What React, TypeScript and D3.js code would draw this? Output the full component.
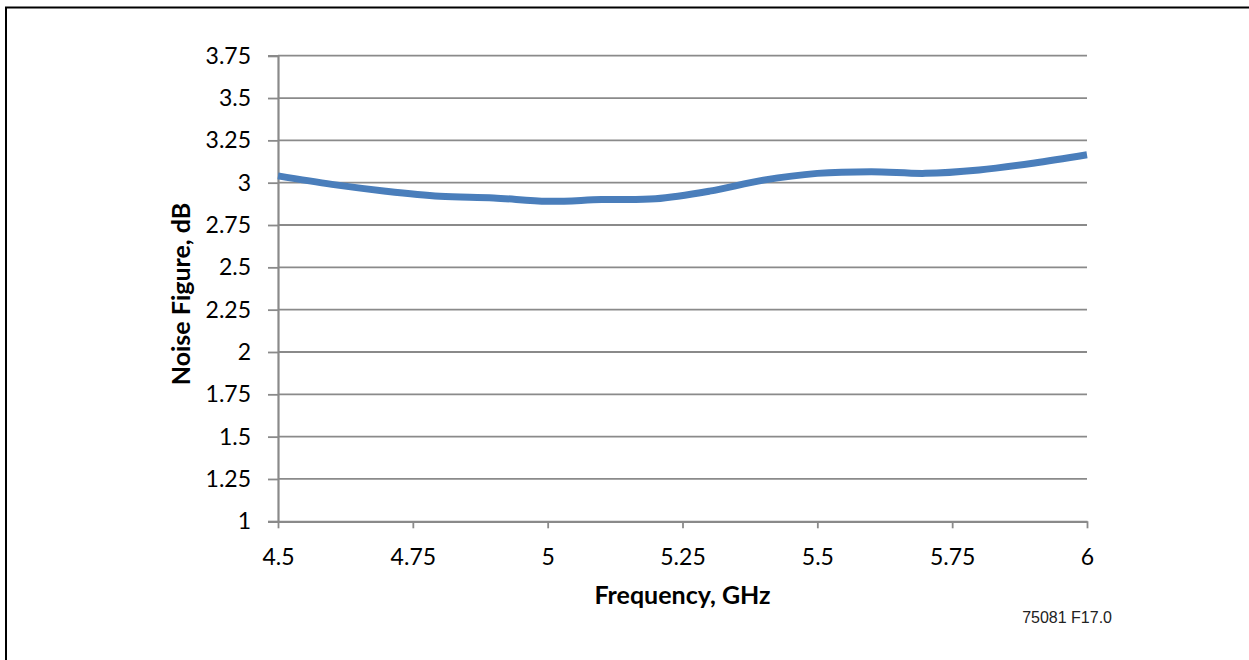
import { useEffect, useRef } from "react";
import * as d3 from "d3";

const frequencyGHz = [4.5, 4.6, 4.7, 4.8, 4.9, 5.0, 5.1, 5.2, 5.3, 5.4, 5.5, 5.6, 5.7, 5.8, 5.9, 6.0];
const noiseFigureDb = [3.04, 2.99, 2.95, 2.92, 2.91, 2.89, 2.9, 2.905, 2.95, 3.015, 3.055, 3.065, 3.055, 3.075, 3.115, 3.165];
const xTicks = [4.5, 4.75, 5, 5.25, 5.5, 5.75, 6];
const yTicks = [1, 1.25, 1.5, 1.75, 2, 2.25, 2.5, 2.75, 3, 3.25, 3.5, 3.75];

const App = () => {
  const chartContainer = useRef<SVGSVGElement>(null);

  useEffect(() => {
    const W = 1249;
    const H = 660;
    const margin = { top: 55.7, right: 162, bottom: 138.7, left: 278 };
    const width = W - margin.left - margin.right;
    const height = H - margin.top - margin.bottom;
    const grey = "#8a8a8a";
    const font = "Lato, 'Open Sans', sans-serif";

    const svg = d3.select(chartContainer.current);
    svg.selectAll("*").remove();

    // outer frame
    svg
      .append("rect")
      .attr("x", 6)
      .attr("y", 7.5)
      .attr("width", W + 10)
      .attr("height", H + 10)
      .attr("fill", "none")
      .attr("stroke", "#000")
      .attr("stroke-width", 2);

    const x = d3.scaleLinear().domain([4.5, 6]).range([0, width]);
    const y = d3.scaleLinear().domain([1, 3.75]).range([height, 0]);

    const g = svg.append("g").attr("transform", `translate(${margin.left},${margin.top})`);

    // gridlines
    g.append("g")
      .selectAll("line")
      .data(yTicks.slice(1))
      .enter()
      .append("line")
      .attr("x1", 0)
      .attr("x2", width)
      .attr("y1", (d) => y(d))
      .attr("y2", (d) => y(d))
      .attr("stroke", grey)
      .attr("stroke-width", 1.8);

    // y axis
    const yAxis = g
      .append("g")
      .call(
        d3
          .axisLeft(y)
          .tickValues(yTicks)
          .tickSize(10)
          .tickPadding(17)
          .tickFormat((d) => String(d))
      );
    yAxis.select(".domain").attr("stroke", grey).attr("stroke-width", 2.2);
    yAxis.selectAll(".tick line").attr("stroke", grey).attr("stroke-width", 1.8);
    yAxis
      .selectAll("text")
      .attr("fill", "#000")
      .style("font-family", font)
      .style("font-size", "23px");

    // x axis
    const xAxis = g
      .append("g")
      .attr("transform", `translate(0,${height})`)
      .call(
        d3
          .axisBottom(x)
          .tickValues(xTicks)
          .tickSize(7)
          .tickSizeOuter(0)
          .tickFormat((d) => String(d))
      );
    xAxis.select(".domain").attr("stroke", grey).attr("stroke-width", 2.2);
    xAxis.selectAll(".tick line").attr("stroke", grey).attr("stroke-width", 1.8);
    xAxis
      .selectAll("text")
      .attr("y", 44)
      .attr("dy", 0)
      .attr("fill", "#000")
      .style("font-family", font)
      .style("font-size", "23px");

    // data line
    const line = d3
      .line<number>()
      .x((_, i) => x(frequencyGHz[i]))
      .y((d) => y(d))
      .curve(d3.curveCatmullRom.alpha(0.5));

    g.append("path")
      .datum(noiseFigureDb)
      .attr("d", line)
      .attr("fill", "none")
      .attr("stroke", "#4a7ebb")
      .attr("stroke-width", 7)
      .attr("stroke-linejoin", "round");

    // axis titles
    svg
      .append("text")
      .attr("x", margin.left + width / 2)
      .attr("y", 604)
      .attr("text-anchor", "middle")
      .style("font-family", font)
      .style("font-weight", "bold")
      .style("font-size", "25px")
      .text("Frequency, GHz");

    svg
      .append("text")
      .attr("transform", `translate(190,294) rotate(-90)`)
      .attr("text-anchor", "middle")
      .style("font-family", font)
      .style("font-weight", "bold")
      .style("font-size", "25px")
      .text("Noise Figure, dB");

    // figure code
    svg
      .append("text")
      .attr("x", 1112)
      .attr("y", 623)
      .attr("text-anchor", "end")
      .attr("fill", "#222")
      .style("font-family", "'Liberation Sans', Arial, sans-serif")
      .style("font-size", "16px")
      .text("75081 F17.0");
  }, []);

  return (
    <div style={{ position: "absolute", left: 0, top: 0 }}>
      <svg ref={chartContainer} width={1249} height={660} style={{ display: "block", background: "#fff" }} />
    </div>
  );
};

export default App;
